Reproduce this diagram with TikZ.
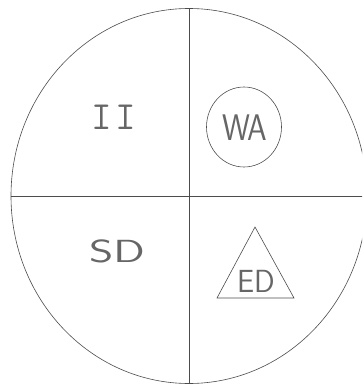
\documentclass[tikz,border=0pt]{standalone}
\usepackage{tikz}
\usetikzlibrary{shapes.geometric}
\usepackage{xcolor}

\tikzset{
  pen/.style={draw=black!70, line width=0.6pt},
  lettering/.style={text=black!60, inner sep=0pt},
}

\begin{document}
\begin{tikzpicture}[x=1pt, y=-1pt]
  \useasboundingbox (0,0) rectangle (362,385);
  \clip (0,0) rectangle (362,385);

  % outer circle and the four quadrants
  \node[pen, ellipse, minimum width=356pt, minimum height=375pt, inner sep=0pt] (disc) at (189,196) {};
  \draw[pen] (disc.north) -- (disc.south);
  \draw[pen] (disc.west) -- (disc.east);

  % quadrant labels
  \node[lettering, font=\ttfamily\fontsize{40}{40}\selectfont] (ii) at (114,117) {I\kern3pt I};
  \node[lettering, xscale=1.45, font=\sffamily\fontsize{32}{32}\selectfont] (sd) at (117,251) {SD};

  % ringed label
  \node[pen, ellipse, minimum width=75pt, minimum height=80pt, inner sep=0pt] (ring) at (244,127) {};
  \node[lettering, xscale=0.85, font=\sffamily\fontsize{37}{37}\selectfont] (wa) at (245,128) {WA};

  % triangle label
  \coordinate (apex) at (255,227);
  \coordinate (baseL) at (217,298);
  \coordinate (baseR) at (294,298);
  \draw[pen] (apex) -- (baseL) -- (baseR) -- cycle;
  \node[lettering, xscale=0.95, font=\sffamily\fontsize{32}{32}\selectfont] (ed) at (256,281) {ED};
\end{tikzpicture}
\end{document}
